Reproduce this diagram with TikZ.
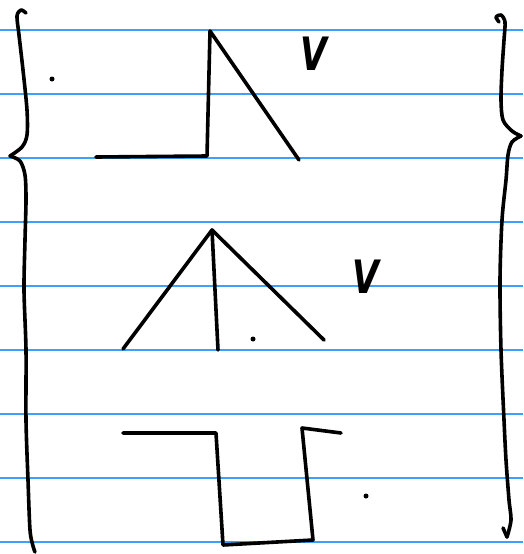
\documentclass[tikz,border=0pt]{standalone}
\usepackage{fontspec}
\newfontfamily\handfont{DejaVu Sans}
\definecolor{rule}{RGB}{60,160,255}
\tikzset{
  ink/.style={line width=3.6pt, line cap=round, line join=round, black},
  ruling/.style={line width=1.3pt, rule},
  inkdot/.style={fill=black, circle, inner sep=0pt, minimum size=5pt},
  letter/.style={font=\handfont\fontsize{46}{46}\selectfont\bfseries\itshape, inner sep=0pt, xscale=0.75}
}
\begin{document}
\begin{tikzpicture}[x=1pt,y=-1pt]
\useasboundingbox (0,0) rectangle (523,554);
\fill[white] (0,0) rectangle (523,554);
% ruled lines
\foreach \yy in {30,94,158,222,286,350,414,478,542}
  \draw[ruling] (0,\yy) -- (523,\yy);
% left brace
\draw[ink] plot[smooth] coordinates {(26,13) (21,10) (17,16) (19,35) (23,70) (27,110) (27,135) (22,147) (10,156)};
\draw[ink] plot[smooth] coordinates {(10,156) (20,161) (25,175) (26,200) (25,240) (24,290) (26,350) (26,420) (28,480) (30,530) (33,546) (35,552)};
% right brace
\draw[ink] plot[smooth] coordinates {(499,22) (496,17) (501,15) (505,22) (504,40) (502,70) (501,100) (503,120) (512,131) (521,136)};
\draw[ink] plot[smooth] coordinates {(521,136) (512,142) (508,155) (506,180) (502,220) (500,280) (501,350) (504,420) (506,460) (509,500) (511,520) (507,537)};
\draw[ink] (503,528) -- (507,537);
% figure 1
\coordinate (a1) at (96,157);
\coordinate (a2) at (207,156);
\coordinate (a3) at (210,31);
\coordinate (a4) at (299,160);
\draw[ink] (a1) -- (a2) -- (a3) -- (a4);
% figure 2
\coordinate (b0) at (212,230);
\coordinate (b1) at (123,349);
\coordinate (b2) at (218,350);
\coordinate (b3) at (324,340);
\draw[ink] (b1) -- (b0) -- (b3);
\draw[ink] (b0) -- (b2);
% figure 3
\coordinate (c1) at (123,433);
\coordinate (c2) at (216,433);
\coordinate (c3) at (223,545);
\coordinate (c4) at (313,540);
\coordinate (c5) at (302,428);
\coordinate (c6) at (341,433);
\draw[ink] (c1) -- (c2) -- (c3) -- (c4) -- (c5) -- (c6);
% dots
\node[inkdot] (d1) at (52,79) {};
\node[inkdot] (d2) at (253,339) {};
\node[inkdot] (d3) at (366,496) {};
% letters
\node[letter] (v1) at (314,54) {V};
\node[letter] (v2) at (366,277) {V};
\end{tikzpicture}
\end{document}
